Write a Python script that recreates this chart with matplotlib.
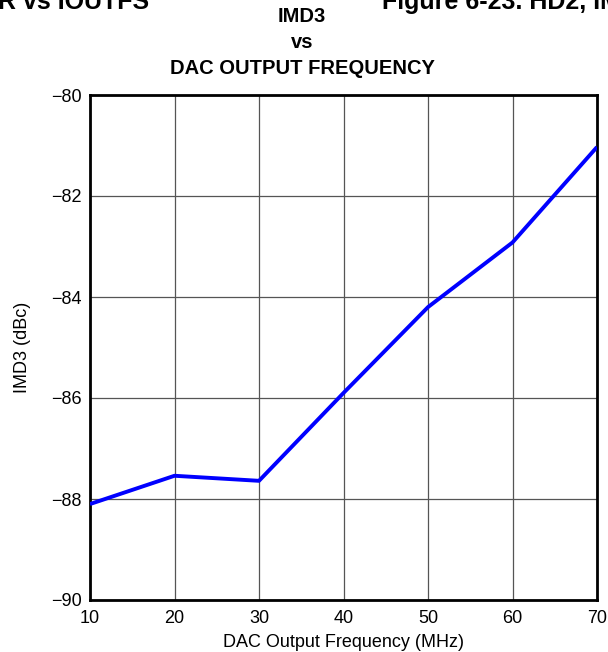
import matplotlib.pyplot as plt

plt.rcParams['font.family'] = ['Liberation Sans', 'DejaVu Sans']

# IMD3 measured against DAC output frequency
freq_mhz = [10, 20, 30, 40, 50, 60, 70]
imd3_dbc = [-88.1, -87.54, -87.64, -85.9, -84.2, -82.92, -81.03]

x_ticks = [10, 20, 30, 40, 50, 60, 70]
y_ticks = [-90, -88, -86, -84, -82, -80]

fig = plt.figure(figsize=(6.08, 6.52), dpi=100)
ax = fig.add_axes([90 / 608, 52 / 652, 507 / 608, 505 / 652])

ax.plot(freq_mhz, imd3_dbc, color='#0000ff', lw=2.8, solid_capstyle='butt', zorder=3)

ax.set_xlim(10, 70)
ax.set_ylim(-90, -80)
ax.set_xticks(x_ticks)
ax.set_yticks(y_ticks)
ax.set_xticklabels([str(v) for v in x_ticks], fontsize=13)
ax.set_yticklabels([str(v).replace('-', '\u2212') for v in y_ticks], fontsize=13)
ax.tick_params(axis='x', length=0, pad=7)
ax.tick_params(axis='y', length=0, pad=6)
ax.grid(True, color='#555555', lw=0.9)
for s in ax.spines.values():
    s.set_linewidth(2)
    s.set_color('black')

ax.set_xlabel('DAC Output Frequency (MHz)', fontsize=13, labelpad=5)
ax.set_ylabel('IMD3 (dBc)', fontsize=13, labelpad=14)

# chart title
tkw = dict(ha='center', va='center', fontsize=14.5, fontweight='bold')
fig.text(0.497, 1 - 17 / 652, 'IMD3', **tkw)
fig.text(0.497, 1 - 42 / 652, 'vs', **tkw)
fig.text(0.497, 1 - 68 / 652, 'DAC OUTPUT FREQUENCY', **tkw)

# page headers clipped at the top edge
fig.text(149 / 608, 1 - 9 / 652, 'R vs IOUTFS', ha='right', va='baseline',
         fontsize=18, fontweight='bold')
fig.text(382 / 608, 1 - 9 / 652, 'Figure 6-23. HD2, IMD3', ha='left', va='baseline',
         fontsize=18, fontweight='bold')

fig.savefig('out.png', dpi=100)
